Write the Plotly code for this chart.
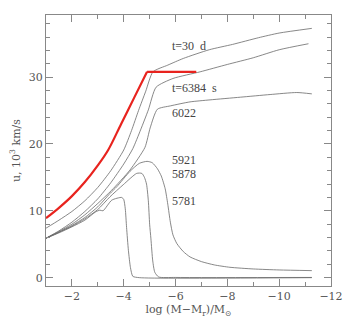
import plotly.graph_objects as go

# u(m) profiles, x = log (M - Mr)/Msun, y = u in 10^3 km/s
red_curve_x = [-1, -1.5, -2, -2.5, -3, -3.4, -3.9, -4.4, -4.9]
red_curve_y = [8.9, 10.45, 12.2, 14.3, 16.8, 19.1, 23.0, 26.9, 30.8]
red_flat_x = [-4.9, -6.8]
red_flat_y = [30.8, 30.8]

t30d_x = [-1, -1.5, -2, -2.5, -3, -3.5, -4, -4.3, -4.57, -4.85, -5.13, -5.7, -6.3, -7.3, -8.2, -9.2, -10, -11.26]
t30d_y = [7.4, 8.6, 9.9, 11.5, 13.5, 16.0, 19.1, 22.0, 25.0, 27.9, 30.8, 31.8, 32.8, 34.1, 34.9, 35.9, 36.6, 37.3]

t6384_x = [-1, -1.5, -2, -2.5, -3, -3.5, -4.0, -4.35, -4.65, -4.95, -5.25, -5.9, -6.95, -8.0, -9.0, -10.0, -11.13]
t6384_y = [5.9, 7.0, 8.3, 9.9, 11.8, 14.2, 17.0, 19.3, 22.1, 25.1, 28.5, 29.8, 30.8, 31.9, 32.9, 34.1, 35.0]

t6022_x = [-1, -1.5, -2, -2.5, -3, -3.54, -4.24, -4.82, -5.02, -5.3, -5.8, -6.56, -7.33, -8.5, -9.65, -10.68, -11.26]
t6022_y = [5.9, 6.9, 8.0, 9.4, 11.1, 13.1, 16.1, 19.5, 22.4, 25.2, 25.7, 26.3, 26.6, 27.0, 27.4, 27.7, 27.5]

t5921_x = [-1, -1.5, -2, -2.5, -3, -3.47, -3.73, -4.24, -4.6, -4.9, -5.1, -5.3, -5.45, -5.6, -5.7, -5.8, -5.9,
           -6.05, -6.3, -6.56, -7.0, -7.5, -8.1, -9, -10, -11.26]
t5921_y = [5.9, 6.8, 7.8, 9.0, 10.6, 12.6, 13.6, 15.9, 17.1, 17.4, 17.2, 16.3, 15.2, 13.3, 11.0, 8.3, 6.4,
           5.1, 3.9, 3.1, 2.4, 1.9, 1.55, 1.3, 1.15, 1.05]

t5878_x = [-1, -1.5, -2, -2.5, -3, -3.47, -3.98, -4.5, -4.7, -4.8, -4.88, -4.95, -5.0, -5.05, -5.12, -5.2,
           -5.35, -6, -11.26]
t5878_y = [5.9, 6.8, 7.7, 8.8, 10.2, 12.1, 13.9, 15.6, 15.6, 15.0, 14.0, 11.5, 8.0, 5.8, 2.5, 0.8,
           0.1, 0.03, 0.03]

t5781_x = [-1, -1.5, -2, -2.5, -2.9, -3.08, -3.2, -3.54, -3.92, -4.0, -4.06, -4.11, -4.18, -4.26, -4.35,
           -4.6, -11.26]
t5781_y = [5.9, 6.7, 7.6, 8.6, 9.8, 10.1, 10.0, 11.6, 12.0, 11.7, 10.3, 7.5, 4.1, 1.5, 0.2, 0.0, 0.0]

gray_curves = [(t30d_x, t30d_y), (t6384_x, t6384_y), (t6022_x, t6022_y),
               (t5921_x, t5921_y), (t5878_x, t5878_y), (t5781_x, t5781_y)]

labels = ["t=30  d", "t=6384  s", "6022", "5921", "5878", "5781"]
label_y = [34.6, 28.4, 24.6, 17.6, 15.5, 11.4]
label_x = -5.79

fig = go.Figure()
for cx, cy in gray_curves:
    fig.add_trace(go.Scatter(x=cx, y=cy, mode="lines", line=dict(color="#6a6a6a", width=0.8),
                             line_shape="spline", line_smoothing=0.6, showlegend=False))
fig.add_trace(go.Scatter(x=red_curve_x, y=red_curve_y, mode="lines", line=dict(color="#e8231e", width=2.2),
                         line_shape="spline", showlegend=False))
fig.add_trace(go.Scatter(x=red_flat_x, y=red_flat_y, mode="lines", line=dict(color="#e8231e", width=2.2),
                         showlegend=False))

for txt, ly in zip(labels, label_y):
    fig.add_annotation(x=label_x, y=ly, text=txt, showarrow=False, xanchor="left", yanchor="middle",
                       font=dict(family="Liberation Serif", size=12, color="#444444"))

axis_common = dict(showgrid=False, zeroline=False, showline=True, linecolor="#888888", linewidth=1,
                   mirror="allticks", ticks="inside", tickcolor="#888888", ticklen=7, automargin=False,
                   tickfont=dict(family="DejaVu Serif", size=11, color="#555555"))

fig.update_xaxes(range=[-1, -12], tickvals=[-2, -4, -6, -8, -10, -12],
                 ticktext=["\u22122", "\u22124", "\u22126", "\u22128", "\u221210", "\u221212"],
                 minor=dict(ticks="inside", dtick=1, tick0=0, ticklen=4, tickcolor="#888888"),
                 title=dict(text="log (M\u2212M<sub>r</sub>)/M<sub>\u2299</sub>", standoff=1,
                            font=dict(family="DejaVu Serif", size=11, color="#555555")),
                 **axis_common)
fig.update_yaxes(range=[-1.25, 39.3], tick0=0, dtick=10,
                 minor=dict(ticks="inside", dtick=2, tick0=0, ticklen=4, tickcolor="#888888"),
                 title=dict(text="u, 10<sup>3</sup> km/s", standoff=6,
                            font=dict(family="DejaVu Serif", size=11, color="#555555")),
                 **axis_common)

# the page body adds an 8px offset, so the figure is 8px smaller and margins shifted
fig.update_layout(width=348, height=316, margin=dict(l=38, r=25, t=7, b=38),
                  plot_bgcolor="white", paper_bgcolor="white")
fig.write_html("out.html")
